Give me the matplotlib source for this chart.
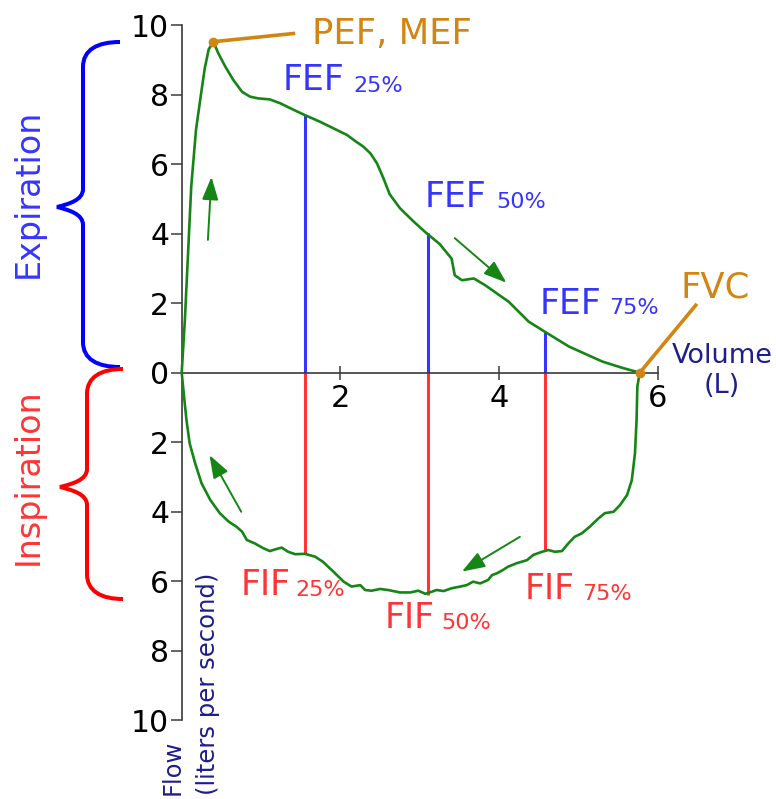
import matplotlib
matplotlib.use('Agg')
import matplotlib.pyplot as plt
from matplotlib.path import Path
from matplotlib.patches import PathPatch
import matplotlib.transforms as mtransforms

# ---------------- data ----------------
exp_vol = [0, 0.04, 0.08, 0.12, 0.18, 0.23, 0.29, 0.34, 0.40, 0.46, 0.55, 0.65, 0.76,
           0.86, 0.96, 1.11, 1.24, 1.41, 1.55, 1.74, 1.91, 2.08, 2.20, 2.29, 2.38, 2.46,
           2.54, 2.62, 2.75, 2.92, 3.08, 3.25, 3.40, 3.44, 3.53, 3.68, 3.82, 4.12, 4.37,
           4.58, 4.88, 5.30, 5.55, 5.77]
exp_flow = [0, 1.52, 3.43, 5.35, 6.98, 7.80, 8.75, 9.30, 9.52, 9.19, 8.80, 8.42, 8.08,
            7.94, 7.89, 7.86, 7.75, 7.56, 7.41, 7.22, 7.03, 6.84, 6.64, 6.50, 6.30, 6.02,
            5.60, 5.13, 4.73, 4.35, 4.02, 3.70, 3.28, 2.80, 2.66, 2.71, 2.52, 2.04, 1.47,
            1.17, 0.75, 0.32, 0.14, 0]

insp_vol = [0, 0.03, 0.06, 0.10, 0.17, 0.25, 0.36, 0.48, 0.59, 0.69, 0.76, 0.82, 0.92,
            1.03, 1.11, 1.18, 1.26, 1.34, 1.43, 1.55, 1.68, 1.78, 1.91, 2.04, 2.14, 2.25,
            2.31, 2.39, 2.50, 2.60, 2.75, 2.88, 2.98, 3.07, 3.15, 3.21, 3.30, 3.40, 3.51,
            3.59, 3.67, 3.76, 3.86, 3.91, 3.97, 4.05, 4.11, 4.22, 4.35, 4.43, 4.54, 4.62,
            4.70, 4.79, 4.87, 4.95, 5.04, 5.14, 5.25, 5.33, 5.44, 5.52, 5.61, 5.67, 5.71,
            5.73, 5.74, 5.77]
insp_flow = [0, -0.69, -1.36, -2.03, -2.61, -3.18, -3.66, -4.04, -4.28, -4.43, -4.57,
             -4.81, -4.91, -5.05, -5.13, -5.08, -5.03, -5.15, -5.22, -5.21, -5.29, -5.44,
             -5.72, -6.01, -6.15, -6.11, -6.25, -6.27, -6.22, -6.25, -6.32, -6.32, -6.27,
             -6.36, -6.30, -6.25, -6.28, -6.20, -6.15, -6.11, -6.01, -6.06, -5.96, -5.82,
             -5.77, -5.67, -5.58, -5.48, -5.39, -5.24, -5.15, -5.10, -5.15, -5.13, -4.91,
             -4.72, -4.62, -4.43, -4.19, -4.04, -4.00, -3.81, -3.52, -3.09, -2.32, -1.36,
             -0.40, 0]

marker_vol = [1.55, 3.10, 4.58]
fef_flow = [7.40, 4.02, 1.17]
fif_flow = [-5.21, -6.39, -5.11]
marker_pct = ['25%', '50%', '75%']

pef_point = (0.40, 9.52)
pef_leader_end = (1.43, 9.76)
fvc_point = (5.77, 0.0)
fvc_leader_end = (6.49, 1.98)

# direction arrows: (start vol, start flow, end vol, end flow)
arrows = [(0.33, 3.82, 0.375, 5.63),
          (3.44, 3.87, 4.09, 2.59),
          (0.75, -4.00, 0.35, -2.37),
          (4.26, -4.72, 3.53, -5.72)]

x_ticks = [2, 4, 6]
y_ticks = [-10, -8, -6, -4, -2, 0, 2, 4, 6, 8, 10]
y_ticklabels = [str(abs(v)) for v in y_ticks]

# ---------------- style ----------------
GREEN = '#158515'
BLUE = '#3535ff'
RED = '#ff3535'
ORANGE = '#d38512'
NAVY = '#1e1e8c'
AXC = '#3a3a3a'

W, H = 776, 799
fig = plt.figure(figsize=(W / 100, H / 100), dpi=100)
X0, X6 = 181.7, 658.0
Y10, YM10 = 25.0, 720.4
ax = fig.add_axes([X0 / W, 1 - YM10 / H, (X6 - X0) / W, (YM10 - Y10) / H])
ax.set_xlim(0, 6)
ax.set_ylim(-10, 10)

for s in ['top', 'right']:
    ax.spines[s].set_visible(False)
ax.spines['bottom'].set_position(('data', 0))
for s in ['left', 'bottom']:
    ax.spines[s].set_color(AXC)
    ax.spines[s].set_linewidth(1.2)

ax.set_xticks(x_ticks)
ax.set_xticklabels([str(v) for v in x_ticks])
ax.set_yticks(y_ticks)
ax.set_yticklabels(y_ticklabels)
ax.tick_params(axis='y', direction='out', length=8, width=1.1, color=AXC,
               labelsize=21.5, pad=1)
ax.tick_params(axis='x', direction='inout', length=10, width=1.1, color=AXC,
               labelsize=22, pad=3)

# vertical marker lines
for v, f in zip(marker_vol, fef_flow):
    ax.plot([v, v], [0, f], color=BLUE, lw=2.2, solid_capstyle='butt', zorder=2)
for v, f in zip(marker_vol, fif_flow):
    ax.plot([v, v], [0, f], color=RED, lw=2.2, solid_capstyle='butt', zorder=2)

# flow-volume loop
ax.plot(exp_vol, exp_flow, color=GREEN, lw=1.9, clip_on=False, zorder=3,
        solid_joinstyle='round', solid_capstyle='round')
ax.plot(insp_vol, insp_flow, color=GREEN, lw=1.9, clip_on=False, zorder=3,
        solid_joinstyle='round', solid_capstyle='round')

# leaders
ax.plot([pef_point[0], pef_leader_end[0]], [pef_point[1], pef_leader_end[1]],
        color=ORANGE, lw=2.6, clip_on=False, zorder=4, solid_capstyle='butt')
ax.plot([fvc_point[0], fvc_leader_end[0]], [fvc_point[1], fvc_leader_end[1]],
        color=ORANGE, lw=2.6, clip_on=False, zorder=4, solid_capstyle='butt')
ax.plot([pef_point[0], fvc_point[0]], [pef_point[1], fvc_point[1]], 'o',
        color=ORANGE, ms=6, clip_on=False, zorder=5, linestyle='none')

# arrows
for x1, y1, x2, y2 in arrows:
    ax.annotate('', xy=(x2, y2), xytext=(x1, y1),
                arrowprops=dict(arrowstyle='-|>,head_length=0.7,head_width=0.25',
                                color=GREEN, lw=1.4, shrinkA=0, shrinkB=0,
                                mutation_scale=20))

# ---------------- annotations in pixel coordinates ----------------
def P(x, y):
    return (x / W, 1 - y / H)

pix = mtransforms.Affine2D().scale(1 / W, -1 / H).translate(0, 1) + fig.transFigure


def brace(xe, xs, xp, yt, ym, yb, color):
    verts = [(xe, yt), (xs + 14, yt), (xs, yt + 8), (xs, yt + 25),
             (xs, ym - 18),
             (xs, ym - 7), (xp + 12, ym - 3), (xp, ym),
             (xp + 12, ym + 3), (xs, ym + 7), (xs, ym + 18),
             (xs, yb - 25),
             (xs, yb - 8), (xs + 14, yb), (xe, yb)]
    codes = [Path.MOVETO, Path.CURVE4, Path.CURVE4, Path.CURVE4,
             Path.LINETO,
             Path.CURVE4, Path.CURVE4, Path.CURVE4,
             Path.CURVE4, Path.CURVE4, Path.CURVE4,
             Path.LINETO,
             Path.CURVE4, Path.CURVE4, Path.CURVE4]
    fig.add_artist(PathPatch(Path(verts, codes), transform=pix, fill=False,
                             edgecolor=color, lw=2.9, capstyle='butt'))


brace(120, 83, 57, 42, 207, 367, 'blue')
brace(123, 87, 60, 369, 487, 599, 'red')

fig.text(*P(28, 193), 'Expiration', rotation=90, ha='center', va='center',
         color=BLUE, fontsize=24)
fig.text(*P(28, 477), 'Inspiration', rotation=90, ha='center', va='center',
         color=RED, fontsize=24)

fig.text(*P(312, 43.5), 'PEF, MEF', color=ORANGE, fontsize=25.5, va='baseline', ha='left')
fig.text(*P(681, 297), 'FVC', color=ORANGE, fontsize=25.5, va='baseline', ha='left')

fef_pos = [((282.7, 90.5), (353, 91.5)), ((425, 206.7), (496.7, 207.5)),
           ((539.3, 314), (609, 314.5))]
fif_pos = [((240.7, 595), (295, 596)), ((385, 628.3), (441.7, 629)),
           ((525, 599.3), (581.7, 600))]
for (m, s), pct in zip(fef_pos, marker_pct):
    fig.text(*P(*m), 'FEF', color=BLUE, fontsize=25, va='baseline', ha='left')
    fig.text(*P(*s), pct, color=BLUE, fontsize=16, va='baseline', ha='left')
for (m, s), pct in zip(fif_pos, marker_pct):
    fig.text(*P(*m), 'FIF', color=RED, fontsize=25, va='baseline', ha='left')
    fig.text(*P(*s), pct, color=RED, fontsize=16, va='baseline', ha='left')

fig.text(*P(722, 363), 'Volume', color=NAVY, fontsize=19.5, ha='center', va='baseline')
fig.text(*P(722, 393), '(L)', color=NAVY, fontsize=19.5, ha='center', va='baseline')

fig.text(*P(172.5, 795), 'Flow', color=NAVY, fontsize=17.5, rotation=90,
         ha='center', va='bottom')
fig.text(*P(207.5, 795), '(liters per second)', color=NAVY, fontsize=17.5,
         rotation=90, ha='center', va='bottom')

fig.savefig('out.png', dpi=100)
